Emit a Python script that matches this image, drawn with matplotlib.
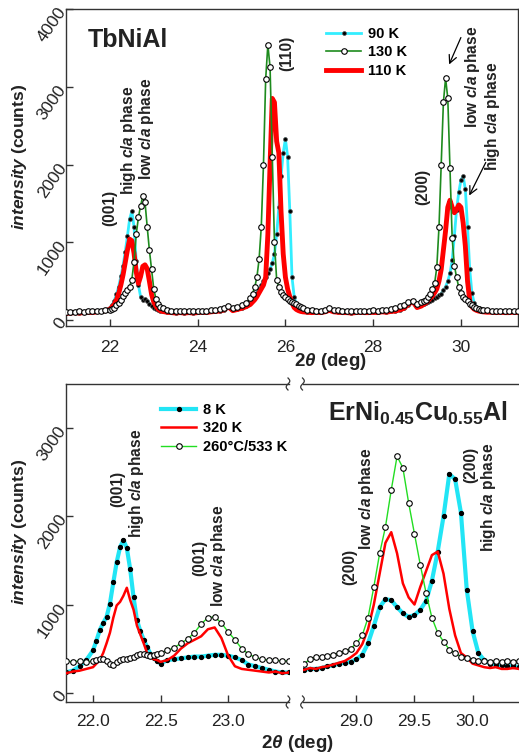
import numpy as np
import matplotlib
matplotlib.use('Agg')
import matplotlib.pyplot as plt
from matplotlib.lines import Line2D
from matplotlib.ticker import FormatStrFormatter

plt.rcParams['font.family'] = ['Liberation Sans', 'DejaVu Sans']
plt.rcParams['mathtext.fontset'] = 'custom'
plt.rcParams['mathtext.rm'] = 'Liberation Sans:bold'
plt.rcParams['mathtext.it'] = 'Liberation Sans:italic:bold'
plt.rcParams['mathtext.bf'] = 'Liberation Sans:bold'

# ---- TbNiAl (top panel) ----
tth_top = [21.0, 21.1, 21.2, 21.3, 21.4, 21.5, 21.6, 21.7, 21.8, 21.9,
           22.0, 22.05, 22.1, 22.15, 22.2, 22.25, 22.3, 22.35, 22.4, 22.45, 22.5, 22.55,
           22.6, 22.65, 22.7, 22.75, 22.8, 22.85, 22.9, 22.95, 23.0, 23.05, 23.1, 23.15,
           23.2, 23.3, 23.4, 23.5, 23.6, 23.7, 23.8, 23.9, 24.0, 24.1, 24.2, 24.3, 24.4,
           24.5, 24.6, 24.7, 24.8, 24.9, 25.0, 25.1,
           25.2, 25.25, 25.3, 25.35, 25.4, 25.45, 25.5, 25.55, 25.6, 25.65, 25.7, 25.75,
           25.8, 25.85, 25.9, 25.95, 26.0, 26.05, 26.1, 26.15, 26.2, 26.25, 26.3, 26.35,
           26.4, 26.5, 26.6, 26.7, 26.8, 26.9, 27.0, 27.1, 27.2, 27.3, 27.4, 27.5, 27.6,
           27.7, 27.8, 27.9, 28.0, 28.1, 28.2, 28.3, 28.4, 28.5, 28.6, 28.7, 28.8, 28.9, 29.0,
           29.1, 29.15, 29.2, 29.25, 29.3, 29.35, 29.4, 29.45, 29.5, 29.55, 29.6, 29.65,
           29.7, 29.75, 29.8, 29.85, 29.9, 29.95, 30.0, 30.05, 30.1, 30.15, 30.2, 30.25,
           30.3, 30.35, 30.4, 30.45,
           30.5, 30.6, 30.7, 30.8, 30.9, 31.0, 31.1, 31.2, 31.3]

cnt_90K = [90, 95, 100, 95, 100, 105, 100, 110, 115, 130,
           160, 190, 250, 330, 430, 560, 700, 880, 1080, 1300, 1400, 1200,
           760, 450, 300, 260, 270, 250, 210, 180, 160, 145, 130, 120,
           110, 105, 100, 95, 100, 95, 100, 95, 100, 105, 100, 110, 115,
           120, 135, 165, 150, 140, 150, 180,
           220, 260, 300, 350, 400, 450, 500, 550, 600, 650, 730, 850,
           1100, 1450, 1850, 2150, 2330, 2100, 1400, 550, 300, 200, 150, 130,
           115, 105, 100, 105, 100, 110, 130, 115, 105, 100, 100, 95, 100,
           105, 100, 100, 105, 100, 110, 105, 115, 120, 135, 150, 190, 230, 180,
           190, 200, 215, 230, 245, 260, 280, 300, 320, 340, 380, 430,
           500, 600, 770, 1080, 1420, 1640, 1800, 1850, 1680, 1200, 650, 350,
           220, 170, 150, 135,
           125, 115, 110, 105, 110, 105, 100, 105, 100]

cnt_130K = [100, 105, 100, 110, 105, 110, 115, 110, 120, 125,
            130, 140, 160, 190, 220, 260, 310, 350, 390, 430, 520, 750,
            1100, 1320, 1470, 1590, 1520, 1200, 900, 650, 400, 270, 200, 170,
            150, 130, 120, 115, 110, 115, 110, 115, 110, 115, 120, 125, 130,
            140, 155, 185, 160, 165, 190, 220,
            280, 340, 420, 550, 780, 1200, 2000, 3100, 3540, 3250, 2100, 1000,
            520, 420, 360, 320, 290, 270, 250, 235, 220, 200, 180, 165,
            150, 135, 125, 120, 120, 130, 155, 135, 125, 120, 115, 115, 120,
            120, 115, 120, 125, 120, 130, 135, 145, 160, 175, 195, 230, 250, 200,
            230, 240, 255, 290, 330, 400, 470, 680, 1200, 2000, 2800, 3110,
            2850, 1950, 1050, 700, 550, 420, 350, 300, 270, 240, 210, 190,
            170, 155, 145, 135,
            130, 125, 120, 120, 115, 120, 115, 110, 115]

cnt_110K = [85, 90, 95, 90, 95, 100, 95, 105, 110, 120,
            140, 170, 200, 260, 340, 450, 580, 740, 900, 1040, 1020, 860,
            620, 470, 560, 690, 710, 660, 500, 330, 230, 180, 140, 120,
            110, 100, 95, 90, 95, 90, 95, 90, 95, 100, 95, 105, 110,
            115, 130, 170, 120, 135, 150, 170,
            200, 230, 260, 300, 350, 400, 450, 550, 1100, 2000, 2850, 2800,
            2300, 2150, 1400, 850, 550, 400, 300, 220, 160, 135, 120, 110,
            105, 100, 95, 100, 95, 105, 125, 105, 100, 95, 95, 90, 95,
            100, 95, 95, 100, 95, 105, 100, 110, 115, 130, 150, 200, 240, 160,
            180, 200, 220, 250, 280, 310, 350, 400, 500, 650, 900, 1150,
            1450, 1540, 1450, 1380, 1420, 1480, 1450, 1250, 950, 500, 250, 170,
            140, 125, 115, 110,
            105, 100, 100, 95, 100, 95, 95, 100, 95]

# ---- ErNi0.45Cu0.55Al (bottom panel, left part) ----
tth_bl = [21.8, 21.85, 21.9, 21.95,
          22.0, 22.025, 22.05, 22.075, 22.1, 22.125, 22.15, 22.175, 22.2, 22.225,
          22.25, 22.275, 22.3, 22.325, 22.35, 22.375, 22.4, 22.425, 22.45, 22.475,
          22.5, 22.55, 22.6, 22.65, 22.7, 22.75, 22.8, 22.85, 22.9, 22.95, 23.0,
          23.05, 23.1, 23.15, 23.2, 23.25, 23.3, 23.35, 23.4, 23.45]

cnt_8K_l = [230, 250, 300, 370,
            480, 590, 710, 790, 860, 1010, 1250, 1480, 1650, 1730,
            1640, 1400, 1080, 820, 700, 600, 520, 440, 390, 360,
            330, 370, 380, 390, 400, 410, 410, 420, 430, 430, 420,
            400, 370, 320, 300, 280, 260, 240, 230, 230]

cnt_320K_l = [220, 240, 250, 270,
              290, 330, 370, 450, 560, 680, 850, 990, 1030, 1100,
              1190, 1050, 940, 760, 660, 560, 450, 400, 380, 370,
              350, 370, 420, 500, 560, 600, 640, 720, 740, 620, 420,
              300, 270, 260, 250, 240, 230, 240, 220, 230]

cnt_533K_l = [360, 350, 360, 350,
              360, 370, 380, 380, 360, 330, 310, 350, 370, 380,
              380, 390, 400, 430, 440, 440, 430, 420, 430, 440,
              450, 480, 510, 560, 610, 680, 780, 850, 860, 790, 690,
              600, 500, 440, 400, 380, 370, 370, 360, 360]

# ---- ErNi0.45Cu0.55Al (bottom panel, right part) ----
tth_br = [28.55, 28.6, 28.65, 28.7, 28.75, 28.8, 28.85, 28.9, 28.95, 29.0,
          29.05, 29.1, 29.15, 29.2, 29.25, 29.3, 29.35, 29.4, 29.45, 29.5,
          29.55, 29.6, 29.65, 29.7, 29.75, 29.8, 29.85, 29.9, 29.95, 30.0,
          30.05, 30.1, 30.15, 30.2, 30.25, 30.3, 30.35, 30.4]

cnt_8K_r = [260, 270, 270, 280, 300, 310, 330, 340, 350, 380,
            430, 560, 760, 970, 1060, 1050, 970, 900, 860, 880,
            940, 1040, 1270, 1600, 2000, 2480, 2420, 2040, 1170, 700,
            450, 370, 330, 320, 310, 300, 300, 290]

cnt_320K_r = [260, 280, 270, 290, 300, 320, 340, 360, 400, 450,
              550, 720, 1000, 1350, 1700, 1820, 1580, 1240, 1080, 1000,
              1200, 1380, 1560, 1600, 1350, 950, 650, 450, 400, 330,
              310, 290, 280, 290, 270, 270, 280, 270]

cnt_533K_r = [330, 380, 400, 410, 420, 430, 450, 470, 500, 560,
              650, 850, 1200, 1580, 1880, 2300, 2680, 2550, 2150, 1800,
              1450, 1130, 850, 680, 580, 490, 450, 410, 390, 370,
              360, 360, 350, 360, 350, 360, 350, 360]

W, H = 519, 756
TXT = '#222222'
AXC = '#333333'


def fx(x):
    return np.asarray(x) / W


def fy(y):
    return 1 - np.asarray(y) / H


fig = plt.figure(figsize=(W / 100, H / 100), dpi=100)
ax1 = fig.add_axes([fx(66), fy(326), fx(518) - fx(66), fy(9) - fy(326)])
axl = fig.add_axes([fx(66), fy(702), fx(289) - fx(66), fy(384) - fy(702)])
axr = fig.add_axes([fx(303), fy(702), fx(519) - fx(303), fy(384) - fy(702)])

# top panel data
ax1.plot(tth_top, cnt_90K, color='#33EEFF', lw=2, marker='o', ms=2.8, mfc='black',
         mec='#555555', mew=0.5, label='90 K', zorder=2)
ax1.plot(tth_top, cnt_130K, color='#1E8B1E', lw=1.2, marker='o', ms=4, mfc='white',
         mec='black', mew=0.8, label='130 K', zorder=4)
ax1.plot(tth_top, cnt_110K, color='#FF0000', lw=3.5, label='110 K', zorder=3)

# bottom panel data
for ax, x, c8, c320, c533 in [(axl, tth_bl, cnt_8K_l, cnt_320K_l, cnt_533K_l),
                              (axr, tth_br, cnt_8K_r, cnt_320K_r, cnt_533K_r)]:
    ax.plot(x, c8, color='#22E5F5', lw=3, marker='o', ms=2.8, mfc='black',
            mec='black', label='8 K', zorder=2)
    ax.plot(x, c320, color='#FF0000', lw=1.8, label='320 K', zorder=3)
    ax.plot(x, c533, color='#22DD22', lw=1, marker='o', ms=4, mfc='white',
            mec='black', mew=0.8, label='260°C/533 K', zorder=4)

ax1.set_xlim(21.0, 31.3)
ax1.set_ylim(-77, 3990)
ax1.set_xticks([22, 24, 26, 28, 30])
ax1.set_yticks([0, 1000, 2000, 3000, 4000])

axl.set_xlim(21.8, 23.45)
axr.set_xlim(28.54, 30.4)
for ax in (axl, axr):
    ax.set_ylim(-105, 3500)
    ax.xaxis.set_major_formatter(FormatStrFormatter('%.1f'))
axl.set_xticks([22.0, 22.5, 23.0])
axr.set_xticks([29.0, 29.5, 30.0])
axl.set_yticks([0, 1000, 2000, 3000])
axr.set_yticks([])

for ax in (ax1, axl, axr):
    for sp in ax.spines.values():
        sp.set_color(AXC)
        sp.set_linewidth(1)
    ax.tick_params(direction='in', length=5, width=1, color=AXC, labelsize=12.5,
                   labelcolor=TXT)
ax1.tick_params(axis='x', pad=10)
axl.tick_params(axis='x', pad=8.5)
axr.tick_params(axis='x', pad=8.5)
axl.spines['right'].set_visible(False)
axr.spines['left'].set_visible(False)
axr.spines['right'].set_visible(False)

for ax in (ax1, axl):
    ax.tick_params(axis='y', pad=2)
    for lab in ax.get_yticklabels():
        lab.set_rotation(55)
        lab.set_ha('right')
        lab.set_va('center')
        lab.set_rotation_mode('anchor')


# break marks on the bottom panel
def brk(xp, yp):
    t = np.linspace(-1, 1, 25)
    fig.add_artist(Line2D(fx(xp + 1.8 * np.sin(np.pi * t)), fy(yp - 6 * t),
                          color=AXC, lw=0.9))


for xp in (288, 302.5):
    for yp in (384, 702):
        brk(xp, yp)

# axis labels
fig.text(fx(330), fy(362), r'2$\theta$ (deg)', fontsize=13.5, fontweight='bold',
         ha='center', va='center', color=TXT)
fig.text(fx(297), fy(743), r'2$\theta$ (deg)', fontsize=13.5, fontweight='bold',
         ha='center', va='center', color=TXT)
fig.text(fx(20), fy(157), r'$intensity$ (counts)', fontsize=12.5, fontweight='bold',
         rotation=90, ha='center', va='center', color=TXT)
fig.text(fx(20), fy(532), r'$intensity$ (counts)', fontsize=12.5, fontweight='bold',
         rotation=90, ha='center', va='center', color=TXT)

# compound names
fig.text(fx(88), fy(40), 'TbNiAl', fontsize=18, fontweight='bold', ha='left',
         va='center', color=TXT)
fig.text(fx(508), fy(413), r'ErNi$_{0.45}$Cu$_{0.55}$Al', fontsize=18,
         fontweight='bold', ha='right', va='center', color=TXT)


def vtext(x, y, s):
    fig.text(fx(x), fy(y), s, rotation=90, ha='center', va='center',
             fontsize=11.2, fontweight='bold', color=TXT)


# top annotations
vtext(110, 208, '(001)')
vtext(128, 140, 'high $c/a$ phase')
vtext(147, 129, 'low $c/a$ phase')
vtext(287, 53, '(110)')
vtext(423, 187, '(200)')
vtext(472, 77, 'low $c/a$ phase')
vtext(492, 116, 'high $c/a$ phase')

arrow = dict(arrowstyle='->', lw=0.9, color='black', mutation_scale=14)
ax1.annotate('', xy=(fx(448), fy(67)), xycoords='figure fraction',
             xytext=(fx(462), fy(35)), textcoords='figure fraction', arrowprops=arrow)
ax1.annotate('', xy=(fx(468), fy(198)), xycoords='figure fraction',
             xytext=(fx(487), fy(160)), textcoords='figure fraction', arrowprops=arrow)

# bottom annotations
vtext(118, 489, '(001)')
vtext(136, 483, 'high $c/a$ phase')
vtext(200, 558, '(001)')
vtext(218, 556, 'low $c/a$ phase')
vtext(350, 567, '(200)')
vtext(367, 499, 'low $c/a$ phase')
vtext(471, 465, '(200)')
vtext(489, 497, 'high $c/a$ phase')

# legends
ax1.legend(loc='upper left', bbox_to_anchor=(fx(326), fy(27)),
           bbox_transform=fig.transFigure, frameon=False,
           prop={'weight': 'bold', 'size': 10.5}, handlelength=2.4,
           handletextpad=0.5, labelspacing=0.3, borderpad=0, borderaxespad=0)
axl.legend(loc='upper left', bbox_to_anchor=(fx(161), fy(403)),
           bbox_transform=fig.transFigure, frameon=False,
           prop={'weight': 'bold', 'size': 10.5}, handlelength=2.4,
           handletextpad=0.5, labelspacing=0.3, borderpad=0, borderaxespad=0)

fig.savefig('out.png', dpi=100)
